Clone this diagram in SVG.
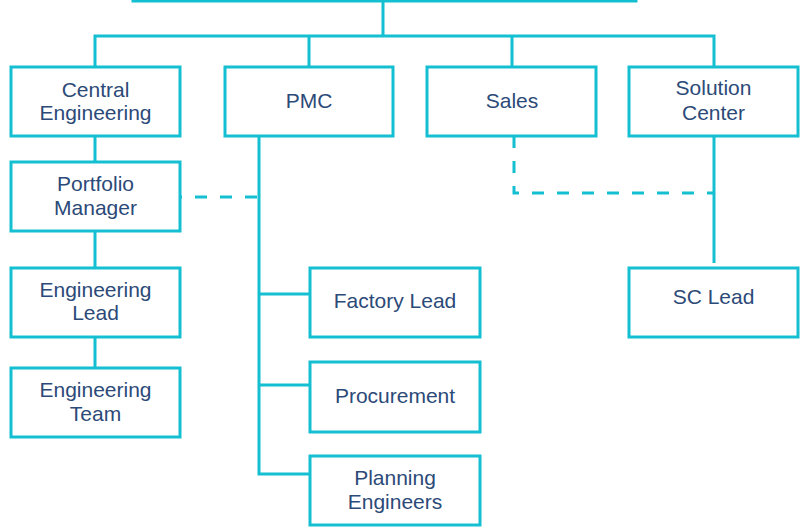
<svg xmlns="http://www.w3.org/2000/svg" width="803" height="529" viewBox="0 0 803 529">
<style>
.box{fill:#fff;stroke:#14bfd2;stroke-width:3}
.ln{fill:none;stroke:#14bfd2;stroke-width:3}
.dash{fill:none;stroke:#14bfd2;stroke-width:3;stroke-dasharray:12 13}
text{font-family:"Liberation Sans",Arial,sans-serif;font-size:21px;fill:#2c4a78;text-anchor:middle}
</style>
<rect width="803" height="529" fill="#fff"/>
<g id="connectors">
<path class="ln" d="M383,1 V36 M95,66 V36 H714 V66 M309,36 V66 M512,36 V66"/>
<path class="ln" d="M95,136 V162 M95,231 V267 M95,337 V368"/>
<path class="ln" d="M259,136 V474 H310 M259,294 H310 M259,385 H310"/>
<path class="ln" d="M714,136 V263"/>
<path class="dash" d="M180,197 H259" stroke-dashoffset="10"/>
<path class="dash" d="M514,136 V193 H714"/>
</g>
<g id="top"><rect class="box" x="133" y="-60" width="503" height="61"/></g>
<g id="central"><rect class="box" x="11" y="67" width="169" height="69"/><text x="95.5" y="97">Central</text><text x="95.5" y="120">Engineering</text></g>
<g id="pmc"><rect class="box" x="225" y="67" width="168" height="69"/><text x="309" y="108">PMC</text></g>
<g id="sales"><rect class="box" x="427" y="67" width="169" height="69"/><text x="512" y="108">Sales</text></g>
<g id="solution"><rect class="box" x="629" y="67" width="169" height="69"/><text x="713.5" y="95">Solution</text><text x="713.5" y="120">Center</text></g>
<g id="portfolio"><rect class="box" x="11" y="162" width="169" height="69"/><text x="95.5" y="191">Portfolio</text><text x="95.5" y="215">Manager</text></g>
<g id="englead"><rect class="box" x="11" y="268" width="169" height="69"/><text x="95.5" y="297">Engineering</text><text x="95.5" y="320">Lead</text></g>
<g id="engteam"><rect class="box" x="11" y="368" width="169" height="69"/><text x="95.5" y="397">Engineering</text><text x="95.5" y="421">Team</text></g>
<g id="factory"><rect class="box" x="310" y="268" width="170" height="69"/><text x="395" y="308">Factory Lead</text></g>
<g id="procurement"><rect class="box" x="310" y="362" width="170" height="70"/><text x="395" y="403">Procurement</text></g>
<g id="planning"><rect class="box" x="310" y="456" width="170" height="69"/><text x="395" y="485">Planning</text><text x="395" y="509">Engineers</text></g>
<g id="sclead"><rect class="box" x="629" y="268" width="169" height="69"/><text x="713.5" y="304">SC Lead</text></g>
</svg>
